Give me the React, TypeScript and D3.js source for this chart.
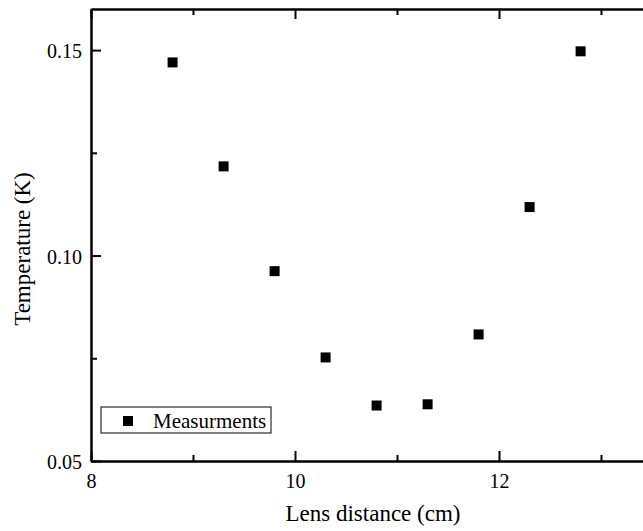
import React, { useEffect, useRef } from 'react';
import * as d3 from 'd3';

const lensDistance = [8.8, 9.3, 9.8, 10.3, 10.8, 11.3, 11.8, 12.3, 12.8];
const temperature = [0.147, 0.1217, 0.0962, 0.0752, 0.0635, 0.0638, 0.0808, 0.1118, 0.1497];
const xMajorTicks = [8, 10, 12];
const xMinorTicks = [9, 11, 13];
const yMajorTicks = [0.05, 0.1, 0.15];
const yMinorTicks = [0.075, 0.125];
const legendLabel = 'Measurments';

const W = 643;
const H = 531;
const FONT = "'Liberation Serif', 'Times New Roman', Times, serif";

const drawChart = (node: SVGSVGElement) => {
  const svg = d3.select(node);
  svg.selectAll('*').remove();

  const x = d3.scaleLinear().domain([8, 13.5]).range([91, 652]);
  const y = d3.scaleLinear().domain([0.05, 0.16]).range([461, 9]);

  const styleAxis = (g: any) => {
    g.attr('font-family', null).attr('font-size', null);
    g.select('.domain').attr('stroke', '#000').attr('stroke-width', 2);
    g.selectAll('.tick line').attr('stroke', '#000').attr('stroke-width', 2);
    g.selectAll('text').style('font-family', FONT).style('font-size', '20px').attr('fill', '#000');
  };

  // bottom axis
  svg.append('g')
    .attr('transform', `translate(0,${y(0.05)})`)
    .call(d3.axisBottom(x).tickValues(xMajorTicks).tickFormat(d3.format('d')).tickSize(-10).tickSizeOuter(0).tickPadding(13))
    .call(styleAxis);
  svg.append('g')
    .attr('transform', `translate(0,${y(0.05)})`)
    .call(d3.axisBottom(x).tickValues(xMinorTicks).tickFormat(() => '').tickSize(-6).tickSizeOuter(0))
    .call(styleAxis);

  // top axis
  svg.append('g')
    .attr('transform', `translate(0,${y(0.16)})`)
    .call(d3.axisTop(x).tickValues(xMajorTicks).tickFormat(() => '').tickSize(-10).tickSizeOuter(0))
    .call(styleAxis);
  svg.append('g')
    .attr('transform', `translate(0,${y(0.16)})`)
    .call(d3.axisTop(x).tickValues(xMinorTicks).tickFormat(() => '').tickSize(-6).tickSizeOuter(0))
    .call(styleAxis);

  // left axis
  svg.append('g')
    .attr('transform', `translate(${x(8)},0)`)
    .call(d3.axisLeft(y).tickValues(yMajorTicks).tickFormat(d3.format('.2f')).tickSize(-10).tickSizeOuter(0).tickPadding(9))
    .call(styleAxis)
    .selectAll('text').attr('dy', '0.38em');
  svg.append('g')
    .attr('transform', `translate(${x(8)},0)`)
    .call(d3.axisLeft(y).tickValues(yMinorTicks).tickFormat(() => '').tickSize(-6).tickSizeOuter(0))
    .call(styleAxis);

  // right frame (mostly off canvas)
  svg.append('line')
    .attr('x1', x(13.5)).attr('x2', x(13.5))
    .attr('y1', y(0.05)).attr('y2', y(0.16))
    .attr('stroke', '#000').attr('stroke-width', 2);

  // markers
  const pts = lensDistance.map((d, i) => [d, temperature[i]]);
  svg.append('g')
    .selectAll('rect')
    .data(pts)
    .enter()
    .append('rect')
    .attr('x', d => x(d[0]) - 5)
    .attr('y', d => y(d[1]) - 5)
    .attr('width', 10)
    .attr('height', 10)
    .attr('fill', '#000');

  // axis titles
  svg.append('text')
    .attr('x', 373)
    .attr('y', 521)
    .attr('text-anchor', 'middle')
    .style('font-family', FONT)
    .style('font-size', '23px')
    .text('Lens distance (cm)');

  svg.append('text')
    .attr('transform', 'translate(30,249) rotate(-90)')
    .attr('text-anchor', 'middle')
    .style('font-family', FONT)
    .style('font-size', '23px')
    .text('Temperature (K)');

  // legend
  const lg = svg.append('g');
  lg.append('rect')
    .attr('x', 101).attr('y', 407)
    .attr('width', 170).attr('height', 26)
    .attr('fill', '#fff').attr('stroke', '#000').attr('stroke-width', 1);
  lg.append('rect')
    .attr('x', 123).attr('y', 416)
    .attr('width', 10).attr('height', 10)
    .attr('fill', '#000');
  lg.append('text')
    .attr('x', 153).attr('y', 428)
    .style('font-family', FONT)
    .style('font-size', '21px')
    .text(legendLabel);
};

export default function App() {
  const ref = useRef<SVGSVGElement>(null);
  useEffect(() => {
    if (ref.current) drawChart(ref.current);
  }, []);
  return (
    <svg
      ref={ref}
      width={W}
      height={H}
      style={{ position: 'absolute', left: 0, top: 0, background: '#fff' }}
    />
  );
}
